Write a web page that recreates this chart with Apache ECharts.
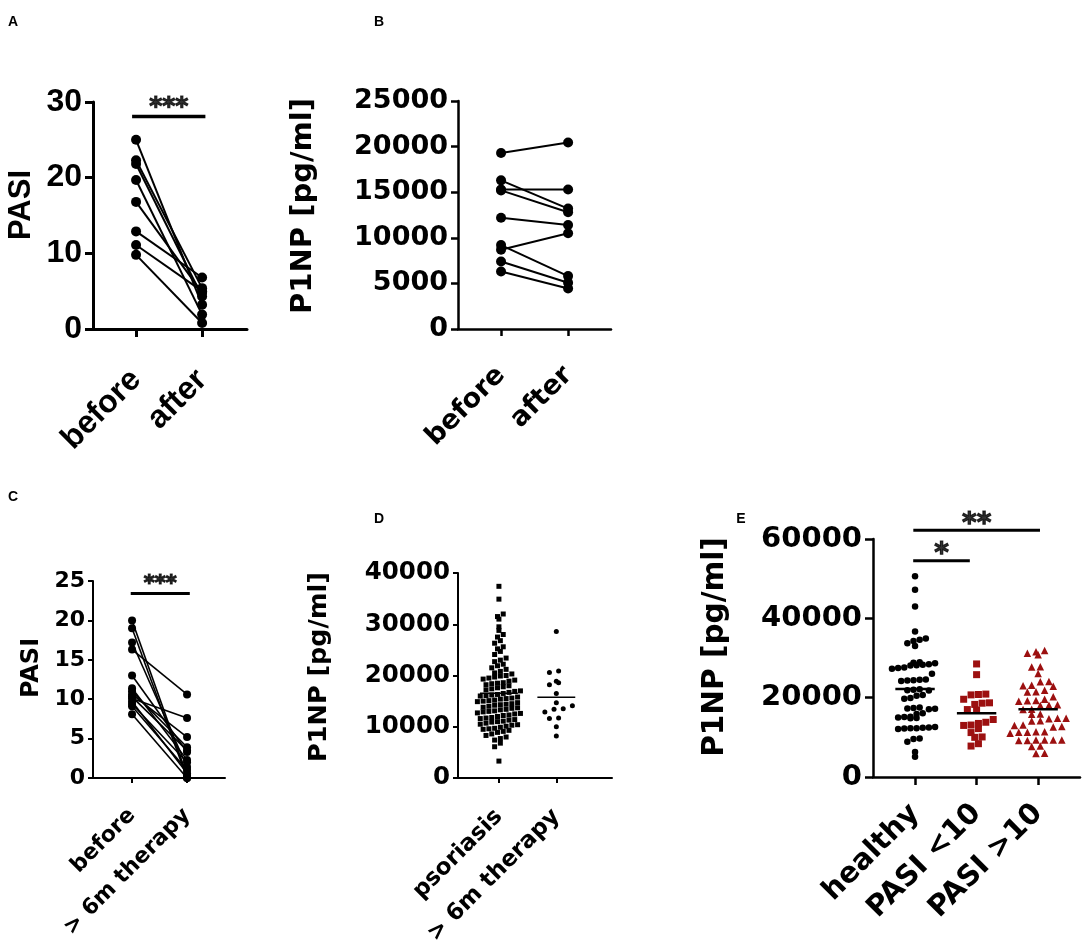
<!DOCTYPE html>
<html>
<head>
<meta charset="utf-8">
<script src="https://cdn.jsdelivr.net/npm/echarts@6/dist/echarts.min.js"></script>
<style>
  html, body { margin: 0; padding: 0; background: #fff; }
  #main { width: 1084px; height: 947px; }
</style>
</head>
<body>
<div id="main"></div>
<script>
// panel A: PASI before / after
const pasiBefore = [25, 22.3, 21.8, 19.7, 16.8, 12.9, 11.1, 9.8];
const pasiAfter = [3.2, 5.4, 4.3, 1.9, 4.8, 6.8, 5.0, 0.8];
const namesBA = ['before', 'after'];

// panel B: P1NP before / after
const p1npBefore = [19300, 16300, 15300, 15200, 12200, 9200, 8700, 7400, 6300];
const p1npAfter = [20450, 13200, 15300, 12800, 11400, 5800, 10500, 5070, 4450];

// panel C: PASI before / > 6m therapy
const pasiBefore6m = [20, 19, 17.2, 16.3, 13, 11.4, 11, 10.6, 10.1, 9.7, 9.1, 8.1, 10.3, 9.4];
const pasiAfter6m = [0.3, 0, 1.4, 10.6, 3.3, 2.3, 3.9, 5.2, 7.6, 0.6, 1, 0, 3.5, 2];
const namesC = ['before', '> 6m therapy'];

// panel D: P1NP psoriasis vs > 6m therapy
const psoriasis = [37400, 34900, 32000, 31500, 31000, 29500, 28800, 28000, 27500, 26800, 26300, 25600,
  25200, 24700, 24100, 23400, 23000, 22700, 22200, 21900, 21500, 21200, 20800, 20500, 20300, 20000,
  19900, 19700, 19500, 19300, 19100, 18900, 18600, 18500, 18400, 18200, 18000, 17800, 17600, 17400,
  17200, 17000, 16900, 16700, 16500, 16300, 16200, 16100, 16000, 15800, 15600, 15500, 15400, 15200,
  15100, 15000, 14900, 14700, 14500, 14400, 14300, 14200, 14000, 13800, 13700, 13600, 13400, 13300,
  13100, 13000, 12900, 12700, 12600, 12500, 12300, 12200, 12000, 11800, 11700, 11600, 11400, 11300,
  11100, 11000, 10900, 10700, 10500, 10400, 10300, 10100, 9900, 9700, 9600, 9500, 9300, 9100, 8900,
  8600, 8300, 8000, 7700, 7400, 6800, 6100, 3300];
const therapy6m = [28600, 20900, 20600, 18900, 18600, 18200, 16500, 14700, 14100, 13500, 13400, 12900,
  11700, 11600, 10000, 8200];
const namesD = ['psoriasis', '> 6m therapy'];

// panel E: P1NP healthy vs PASI groups
const healthy = [50600, 47200, 43000, 36700, 34300, 34600, 34900, 33700, 33000, 28900, 28700, 28800,
  28300, 28100, 28400, 28200, 27500, 27300, 27600, 26000, 24500, 24300, 24600, 24400, 24200, 22000,
  21800, 21900, 22100, 20700, 20500, 19900, 19700, 17400, 17200, 17300, 17100, 17500, 16100, 15900,
  15000, 15100, 14900, 15200, 14800, 12500, 12400, 12600, 12300, 12200, 12100, 12300, 9700, 9600,
  8900, 6300, 5100];
const pasiLow = [28500, 25800, 20800, 20700, 20900, 19600, 18700, 18600, 18300, 17000, 16900, 14500,
  13800, 13500, 13100, 13000, 12200, 11200, 10000, 10100, 8400, 7800];
const pasiHigh = [31600, 31900, 31200, 30800, 27800, 27700, 26100, 24000, 24100, 23000, 22900, 23100,
  21900, 21500, 21400, 20200, 19200, 19300, 19100, 19600, 18100, 18200, 18000, 17000, 17100, 15900,
  15800, 14800, 14700, 14800, 14200, 14100, 13100, 13000, 12600, 12700, 11400, 11300, 11400, 11300,
  11000, 9300, 9200, 9300, 9300, 9200, 9300, 7800, 7700, 5900, 6000];
const namesE = ['healthy', 'PASI <10', 'PASI >10'];

const arial = '"Liberation Sans", Arial, sans-serif';
const dejavu = '"DejaVu Sans", sans-serif';
const red = '#9c1010';

const chart = echarts.init(document.getElementById('main'));

const grids = [];
const xAxes = [];
const yAxes = [];
const series = [];

function panel(box, xr, yr, names, fam, size, margin, lw, tick) {
  const idx = grids.length;
  grids.push({
    left: box[0], top: box[1], width: box[2], height: box[3],
    containLabel: false, outerBoundsMode: 'none'
  });
  const ticks = names.map((n, i) => i + 1);
  xAxes.push({
    gridIndex: idx, type: 'value', min: xr[0], max: xr[1],
    axisLine: { show: true, onZero: false, lineStyle: { color: '#000', width: lw } },
    axisTick: { show: true, customValues: ticks, length: tick, lineStyle: { color: '#000', width: lw } },
    axisLabel: {
      customValues: ticks, rotate: 45, margin: margin,
      formatter: v => names[Math.round(v) - 1] || '',
      color: '#000', fontFamily: fam, fontWeight: 'bold', fontSize: size
    },
    splitLine: { show: false }
  });
  yAxes.push({
    gridIndex: idx, type: 'value', min: 0, max: yr[0], interval: yr[1],
    axisLine: { show: true, lineStyle: { color: '#000', width: lw } },
    axisTick: { show: true, length: tick, lineStyle: { color: '#000', width: lw } },
    axisLabel: {
      margin: tick + 3, color: '#000', fontFamily: fam, fontWeight: 'bold', fontSize: yr[2],
      formatter: v => String(v)
    },
    splitLine: { show: false }
  });
  return idx;
}

function paired(idx, before, after, sym, lw) {
  before.forEach((b, k) => {
    series.push({
      type: 'line', xAxisIndex: idx, yAxisIndex: idx, silent: true,
      data: [[1, b], [2, after[k]]],
      symbol: 'circle', symbolSize: sym, showSymbol: true,
      itemStyle: { color: '#000', opacity: 1 }, lineStyle: { color: '#000', width: lw }
    });
  });
}

function bar(idx, x1, x2, y, stars, size, dy, lw) {
  series.push({
    type: 'line', xAxisIndex: idx, yAxisIndex: idx, silent: true, clip: false,
    data: [[x1, y], [x2, y]], symbol: 'none',
    lineStyle: { color: '#000', width: lw }
  });
  series.push({
    type: 'scatter', xAxisIndex: idx, yAxisIndex: idx, silent: true, clip: false,
    data: [[(x1 + x2) / 2, y]], symbolSize: 0, itemStyle: { color: '#000' },
    label: {
      show: true, position: 'inside', offset: [0, dy], formatter: stars,
      color: '#000', textBorderColor: '#000', textBorderWidth: 1.2,
      fontFamily: dejavu, fontWeight: 'bold', fontSize: size
    }
  });
}

// spread points of one column into rows, like a dot plot
function swarm(vals, center, bin, step) {
  const rows = {};
  vals.forEach(v => {
    const k = Math.round(v / bin);
    (rows[k] = rows[k] || []).push(v);
  });
  const out = [];
  Object.keys(rows).forEach(k => {
    const g = rows[k].slice().sort((a, b) => a - b);
    const shift = (k % 2) ? step * 0.25 : -step * 0.25;
    g.forEach((v, i) => {
      const off = (i - (g.length - 1) / 2) * step + (g.length > 1 ? shift : 0);
      out.push([center + off, v]);
    });
  });
  return out;
}

function mean(vals) {
  return vals.reduce((s, v) => s + v, 0) / vals.length;
}

function dots(idx, vals, center, bin, step, sym, size, color, half, lw) {
  series.push({
    type: 'scatter', xAxisIndex: idx, yAxisIndex: idx, silent: true,
    data: swarm(vals, center, bin, step), symbol: sym, symbolSize: size,
    itemStyle: { color: color, opacity: 1 }
  });
  const m = mean(vals);
  series.push({
    type: 'line', xAxisIndex: idx, yAxisIndex: idx, silent: true, z: 5,
    data: [[center - half, m], [center + half, m]], symbol: 'none',
    lineStyle: { color: '#000', width: lw }
  });
}

// A
const a = panel([93, 102, 154, 227], [0.348, 2.68], [30, 10, 32], namesBA, arial, 32, 46, 3, 8);
paired(a, pasiBefore, pasiAfter, 10, 2);
bar(a, 0.94, 2.05, 28.1, '***', 25, -9, 3.5);

// B
const b = panel([458, 101, 153, 228], [0.358, 2.64], [25000, 5000, 27], namesBA, dejavu, 27, 42, 2.5, 7);
paired(b, p1npBefore, p1npAfter, 10, 2);

// C
const c = panel([93, 581, 132, 197], [0.29, 2.69], [25, 5, 22], namesC, dejavu, 22, 34, 2, 5);
paired(c, pasiBefore6m, pasiAfter6m, 8, 1.6);
bar(c, 0.976, 2.05, 23.4, '***', 21, -9, 3);

// D
const d = panel([458, 573, 154, 205], [0.287, 2.97], [40000, 10000, 24.5], namesD, dejavu, 23, 35, 2, 5);
dots(d, psoriasis, 1, 1100, 0.1, 'rect', 5, '#000', 0.33, 1.5);
dots(d, therapy6m, 2, 1500, 0.16, 'circle', 5, '#000', 0.33, 1.5);

// E
const e = panel([873, 539, 207, 238], [0.317, 3.68], [60000, 20000, 29], namesE, dejavu, 29, 32, 2.5, 8);
dots(e, healthy, 1, 2300, 0.1, 'circle', 6.5, '#000', 0.32, 2.5);
dots(e, pasiLow, 2, 2000, 0.12, 'rect', 7, red, 0.32, 2.5);
dots(e, pasiHigh, 3, 2000, 0.14, 'triangle', 7.5, red, 0.32, 2.5);
bar(e, 0.972, 3.03, 62190, '**', 28, -6, 3);
bar(e, 0.97, 1.89, 54530, '*', 28, -6, 3);

function vtitle(x, y, text, fam, size) {
  return {
    type: 'text', x: x, y: y, rotation: Math.PI / 2, silent: true,
    style: {
      text: text, font: 'bold ' + size + 'px ' + fam, fill: '#000',
      textAlign: 'center', textVerticalAlign: 'middle'
    }
  };
}

function letter(x, y, text) {
  return {
    type: 'text', x: x, y: y, silent: true,
    style: { text: text, font: 'bold 14px ' + arial, fill: '#000', textAlign: 'center', textVerticalAlign: 'middle' }
  };
}

chart.setOption({
  animation: false,
  backgroundColor: '#fff',
  grid: grids,
  xAxis: xAxes,
  yAxis: yAxes,
  series: series,
  graphic: [
    letter(13, 22, 'A'), letter(379, 22, 'B'), letter(13, 497, 'C'),
    letter(379, 519, 'D'), letter(741, 519, 'E'),
    vtitle(21, 205, 'PASI', arial, 31),
    vtitle(303, 206, 'P1NP [pg/ml]', dejavu, 29),
    vtitle(32, 668, 'PASI', dejavu, 24),
    vtitle(319, 667, 'P1NP [pg/ml]', dejavu, 25.5),
    vtitle(715, 647, 'P1NP [pg/ml]', dejavu, 29.5)
  ]
});
</script>
</body>
</html>
